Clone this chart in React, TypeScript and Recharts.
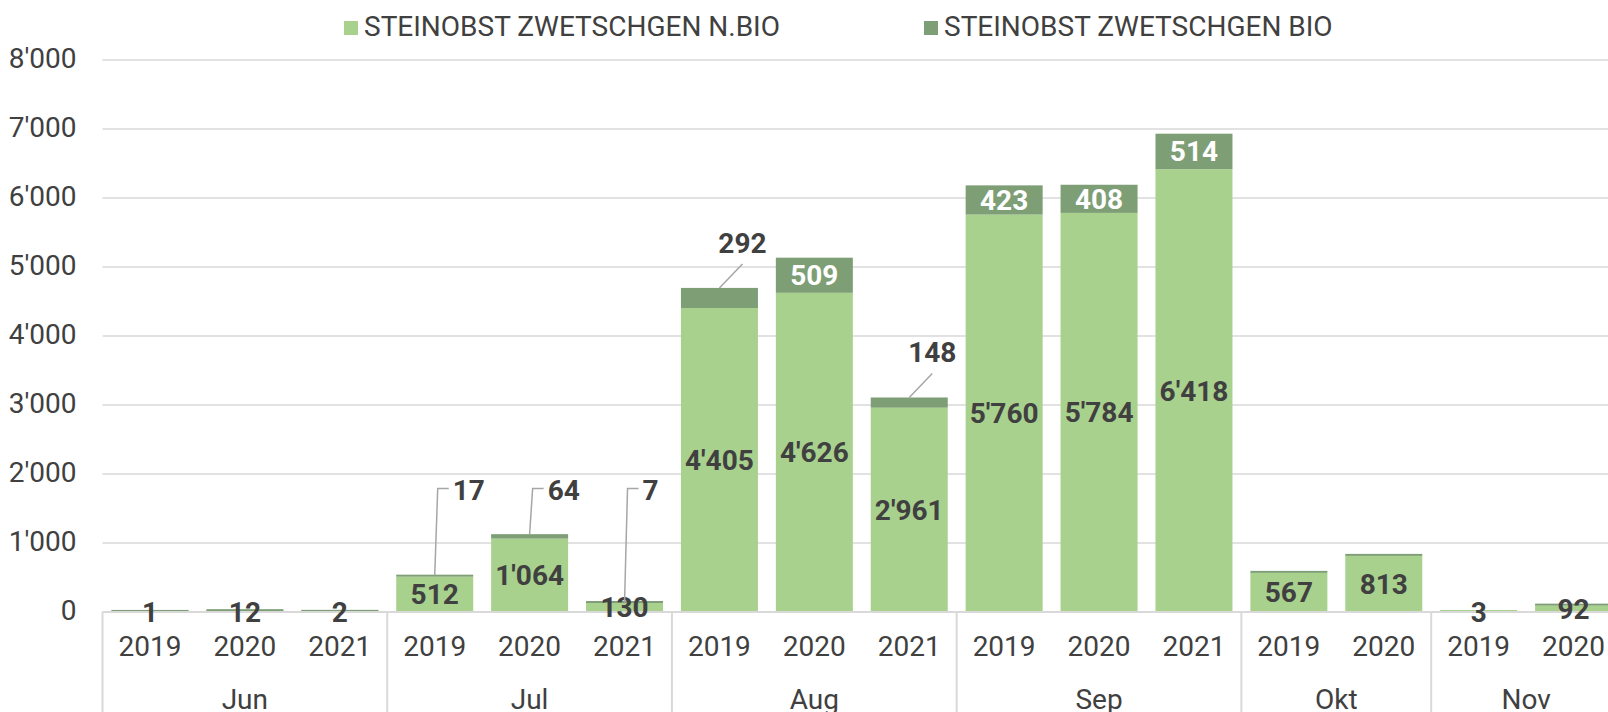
import React from 'react';
import { BarChart, Bar, XAxis, YAxis, CartesianGrid, Legend, LabelList } from 'recharts';

// ---------- data ----------
const months = ['Jun', 'Jun', 'Jun', 'Jul', 'Jul', 'Jul', 'Aug', 'Aug', 'Aug', 'Sep', 'Sep', 'Sep', 'Okt', 'Okt', 'Nov', 'Nov'];
const years = ['2019', '2020', '2021', '2019', '2020', '2021', '2019', '2020', '2021', '2019', '2020', '2021', '2019', '2020', '2019', '2020'];
const nbioValues = [1, 12, 2, 512, 1064, 130, 4405, 4626, 2961, 5760, 5784, 6418, 567, 813, 3, 92];
const bioValues: (number | null)[] = [0, 0, 0, 17, 64, 7, 292, 509, 148, 423, 408, 514, 0, 0, null, 0];
const yTicks = [0, 1000, 2000, 3000, 4000, 5000, 6000, 7000, 8000];
const seriesNames = ['STEINOBST ZWETSCHGEN N.BIO', 'STEINOBST ZWETSCHGEN BIO'];

const data = months.map((m, i) => ({
  key: `${m} ${years[i]}`,
  month: m,
  year: years[i],
  nbio: nbioValues[i],
  bio: bioValues[i],
}));

// ---------- layout / style ----------
const FONT = 'Roboto, "Noto Sans", sans-serif';
const FS = 28;
const TEXT = '#404040';
const LIGHT = '#A9D18E';
const DARK = '#7E9E76';
const GRID = '#D9D9D9';
const LEADER = '#A6A6A6';

const CHART_W = 1640;
const CHART_H = 712;
const M_TOP = 60;
const M_RIGHT = 19;
const Y_W = 102.5;
const X_H = 100;
const Y_MAX = 8000;
const N = months.length;
const CAT_W = (CHART_W - Y_W - M_RIGHT) / N;
const PLOT_BOTTOM = CHART_H - X_H;
const PLOT_H = PLOT_BOTTOM - M_TOP;
const yPix = (v: number) => PLOT_BOTTOM - (v * PLOT_H) / Y_MAX;
const MIN_H = 2;
const INSIDE_MIN = 25;
const ELBOW_MAX_TOTAL = 2000;
const ELBOW_LEVEL = 1790;

const fmt = (n: number) => String(n).replace(/\B(?=(\d{3})+(?!\d))/g, "'");

const num = (v: any) => Number(v) || 0;
const getBox = (p: any) => {
  const vb = p.viewBox || {};
  return {
    x: num(vb.x ?? p.x),
    y: num(vb.y ?? p.y),
    w: num(vb.width ?? p.width),
    h: num(vb.height ?? p.height),
  };
};

const makeShape = (key: 'nbio' | 'bio') => (p: any) => {
  const v = p.payload ? p.payload[key] : undefined;
  if (v == null) return null;
  const x = num(p.x);
  const y = num(p.y);
  const w = num(p.width);
  const h = Math.max(num(p.height), 0);
  const bottom = y + h;
  const dh = Math.max(h, MIN_H);
  return <rect x={x} y={bottom - dh} width={w} height={dh} fill={p.fill} />;
};

const NbioLabel = (p: any) => {
  const { x, y, w, h } = getBox(p);
  const i = p.index;
  const v = i != null ? nbioValues[i] : p.value;
  if (v == null) return null;
  return (
    <text x={x + w / 2} y={y + h / 2} dy={FS * 0.355} textAnchor="middle" fontFamily={FONT} fontSize={FS} fontWeight={700} fill={TEXT}>
      {fmt(v)}
    </text>
  );
};

const BioLabel = (p: any) => {
  const { x, y, w, h } = getBox(p);
  const i = p.index;
  const v = i != null ? bioValues[i] : p.value;
  if (!v) return null;
  const cx = x + w / 2;
  const hh = Math.abs(h);
  const top = Math.min(y, y + h);
  if (hh >= INSIDE_MIN) {
    return (
      <text x={cx} y={top + hh / 2} dy={FS * 0.355} textAnchor="middle" fontFamily={FONT} fontSize={FS} fontWeight={700} fill="#FFFFFF">
        {fmt(v)}
      </text>
    );
  }
  const total = (i != null ? nbioValues[i] : 0) + v;
  if (total < ELBOW_MAX_TOTAL) {
    const ly = yPix(ELBOW_LEVEL);
    return (
      <g>
        <polyline points={`${cx},${top} ${cx + 3},${ly} ${cx + 14},${ly}`} fill="none" stroke={LEADER} strokeWidth={1.5} />
        <text x={cx + 18} y={ly + 1.5} dy={FS * 0.355} textAnchor="start" fontFamily={FONT} fontSize={FS} fontWeight={700} fill={TEXT}>
          {fmt(v)}
        </text>
      </g>
    );
  }
  return (
    <g>
      <line x1={cx} y1={top} x2={cx + 23} y2={top - 24} stroke={LEADER} strokeWidth={1.5} />
      <text x={cx + 23} y={top - 45} dy={FS * 0.355} textAnchor="middle" fontFamily={FONT} fontSize={FS} fontWeight={700} fill={TEXT}>
        {fmt(v)}
      </text>
    </g>
  );
};

const XTick = (p: any) => {
  const x = num(p.x);
  const y = num(p.y);
  const i = p.payload && p.payload.index != null ? p.payload.index : p.index;
  const m = months[i];
  let s = i;
  while (s > 0 && months[s - 1] === m) s--;
  let e = i;
  while (e < N - 1 && months[e + 1] === m) e++;
  const groupCenter = x + ((s + e) / 2 - i) * CAT_W;
  return (
    <g>
      <text x={x} y={y + 44} textAnchor="middle" fontFamily={FONT} fontSize={FS} fill={TEXT}>
        {years[i]}
      </text>
      {i === s && <line x1={x - CAT_W / 2} x2={x - CAT_W / 2} y1={y} y2={y + X_H} stroke={GRID} strokeWidth={2} />}
      {i === s && (
        <text x={groupCenter} y={y + 97} textAnchor="middle" fontFamily={FONT} fontSize={FS} fill={TEXT}>
          {m}
        </text>
      )}
    </g>
  );
};

const YTick = (p: any) => (
  <text x={num(p.x)} y={num(p.y)} dy={FS * 0.355 - 2.3} textAnchor="end" fontFamily={FONT} fontSize={FS} fill={TEXT}>
    {fmt(p.payload.value)}
  </text>
);

const LEGEND_X = [344, 924];
const LegendContent = () => (
  <svg width={1608} height={50} style={{ display: 'block' }}>
    {seriesNames.map((n, i) => (
      <g key={n}>
        <rect x={LEGEND_X[i]} y={21} width={14} height={14} fill={i === 0 ? LIGHT : DARK} />
        <text x={LEGEND_X[i] + 20} y={35.5} fontFamily={FONT} fontSize={FS} fill={TEXT}>
          {n}
        </text>
      </g>
    ))}
  </svg>
);

export default function App() {
  return (
    <div style={{ position: 'fixed', left: 0, top: 0, width: 1608, height: 712, overflow: 'hidden', background: '#fff' }}>
      <BarChart width={CHART_W} height={CHART_H} data={data} margin={{ top: M_TOP, right: M_RIGHT, bottom: 0, left: 0 }}>
        <CartesianGrid vertical={false} stroke={GRID} strokeWidth={1.5} />
        <XAxis
          dataKey="key"
          type="category"
          interval={0}
          height={X_H}
          tickLine={false}
          tickSize={0}
          tickMargin={0}
          axisLine={{ stroke: GRID, strokeWidth: 2 }}
          tick={(p: any) => <XTick {...p} />}
        />
        <YAxis
          type="number"
          domain={[0, Y_MAX]}
          ticks={yTicks}
          width={Y_W}
          axisLine={false}
          tickLine={false}
          tickSize={0}
          tickMargin={26}
          allowDataOverflow
          tick={(p: any) => <YTick {...p} />}
        />
        <Legend
          layout="horizontal"
          verticalAlign="middle"
          align="center"
          wrapperStyle={{ top: 0, left: 0, width: 1608, height: 50 }}
          content={() => <LegendContent />}
        />
        <Bar dataKey="nbio" name={seriesNames[0]} stackId="a" fill={LIGHT} barSize={77} isAnimationActive={false} shape={makeShape('nbio')}>
          <LabelList dataKey="nbio" content={(p: any) => <NbioLabel {...p} />} />
        </Bar>
        <Bar dataKey="bio" name={seriesNames[1]} stackId="a" fill={DARK} barSize={77} isAnimationActive={false} shape={makeShape('bio')}>
          <LabelList dataKey="bio" content={(p: any) => <BioLabel {...p} />} />
        </Bar>
      </BarChart>
    </div>
  );
}
